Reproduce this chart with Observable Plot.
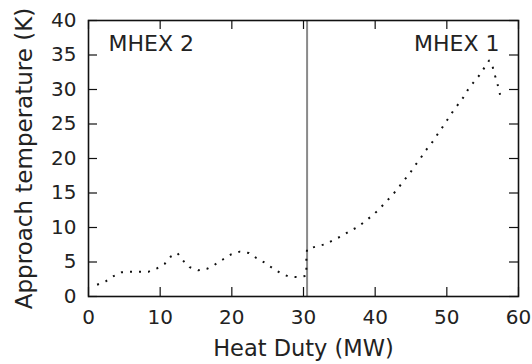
<!DOCTYPE html>
<html>
<head>
<meta charset="utf-8">
<script src="https://cdn.jsdelivr.net/npm/d3@7"></script>
<script src="https://cdn.jsdelivr.net/npm/@observablehq/plot@0.6"></script>
<style>
  html, body { margin: 0; padding: 0; background: #fff; }
  #chart svg { display: block; }
</style>
</head>
<body>
<div id="chart"></div>
<script>
// Heat duty (MW) and approach temperature (K)
const duty = [1.2, 2.4, 3.4, 4.6, 5.9, 7.2, 8.4, 9.6, 10.6, 11.5,
  12.4, 13.2, 14.1, 15.3, 16.5, 17.6, 18.8, 19.9, 21.1, 22.4,
  23.4, 24.6, 25.7, 26.8, 27.9, 29.2, 30.4, 30.4, 30.4, 30.5,
  31.8, 33.1, 34.2, 35.4, 36.5, 37.6, 38.7, 39.7, 40.6, 41.5,
  42.4, 43.2, 44.0, 44.8, 45.5, 46.3, 47.0, 47.8, 48.5, 49.3,
  50.0, 50.7, 51.4, 52.2, 52.9, 53.7, 54.5, 55.2, 55.9, 56.3,
  56.6, 57.0, 57.3, 57.6];
const approach = [1.7, 2.2, 2.9, 3.5, 3.6, 3.6, 3.6, 4.1, 4.7, 5.8,
  6.3, 5.2, 4.25, 3.8, 4.0, 4.6, 5.4, 6.1, 6.5, 6.3,
  5.6, 4.9, 4.1, 3.4, 2.9, 2.8, 3.0, 4.3, 5.7, 6.9,
  7.25, 7.6, 8.2, 8.8, 9.5, 10.1, 11.0, 11.8, 12.7, 13.7,
  14.7, 15.7, 16.8, 17.8, 18.9, 20.0, 21.1, 22.1, 23.2, 24.4,
  25.5, 26.6, 27.6, 28.7, 29.9, 31.0, 32.0, 33.1, 34.2, 33.7,
  32.4, 31.1, 29.8, 28.5];
const dividerDuty = [30.5];
const xTicks = [0, 10, 20, 30, 40, 50, 60];
const yTicks = [0, 5, 10, 15, 20, 25, 30, 35, 40];
const leftLabel = ["MHEX 2"];
const rightLabel = ["MHEX 1"];
const xTitle = ["Heat Duty (MW)"];
const yTitle = ["Approach temperature (K)"];

const data = duty.map((d, i) => ({duty: d, approach: approach[i]}));

const W = 532, H = 364;
const mL = 88, mR = 14, mT = 20, mB = 68;
const innerH = H - mT - mB, innerW = W - mL - mR;
const tickLen = 9;

const chart = Plot.plot({
  width: W,
  height: H,
  marginLeft: mL,
  marginRight: mR,
  marginTop: mT,
  marginBottom: mB,
  style: {fontFamily: "DejaVu Sans", fontSize: "20px", color: "#222", background: "#fff", overflow: "visible"},
  x: {domain: [0, 60]},
  y: {domain: [0, 40]},
  marks: [
    Plot.ruleX(dividerDuty, {x: d => d, stroke: "#8a8a8a", strokeWidth: 2}),
    Plot.line(data, {x: "duty", y: "approach", stroke: "#111", strokeWidth: 2,
      strokeDasharray: "2,7", strokeLinecap: "butt"}),
    Plot.ruleX(xTicks, {x: d => d, insetTop: innerH - tickLen, stroke: "#111", strokeWidth: 1.2}),
    Plot.ruleX(xTicks, {x: d => d, insetBottom: innerH - tickLen, stroke: "#111", strokeWidth: 1.2}),
    Plot.ruleY(yTicks, {y: d => d, insetRight: innerW - tickLen, stroke: "#111", strokeWidth: 1.2}),
    Plot.ruleY(yTicks, {y: d => d, insetLeft: innerW - tickLen, stroke: "#111", strokeWidth: 1.2}),
    Plot.frame({stroke: "#111", strokeWidth: 1.6}),
    Plot.axisX({ticks: xTicks, tickSize: 0, tickPadding: 13, fontSize: 20, label: null}),
    Plot.axisY({ticks: yTicks, tickSize: 0, tickPadding: 12, fontSize: 20, label: null}),
    Plot.text(leftLabel, {text: d => d, frameAnchor: "top-left", dx: 20, dy: 15,
      textAnchor: "start", lineAnchor: "top", fontSize: 22, fill: "#222"}),
    Plot.text(rightLabel, {text: d => d, frameAnchor: "top-right", dx: -19, dy: 15,
      textAnchor: "end", lineAnchor: "top", fontSize: 22, fill: "#222"}),
    Plot.text(xTitle, {text: d => d, frameAnchor: "bottom", dy: 52, textAnchor: "middle", lineAnchor: "middle",
      fontSize: 22.5, fill: "#222"}),
    Plot.text(yTitle, {text: d => d, frameAnchor: "left", dx: -64, rotate: -90,
      textAnchor: "middle", lineAnchor: "middle", fontSize: 23, fill: "#222"})
  ]
});
document.getElementById("chart").appendChild(chart);
</script>
</body>
</html>
